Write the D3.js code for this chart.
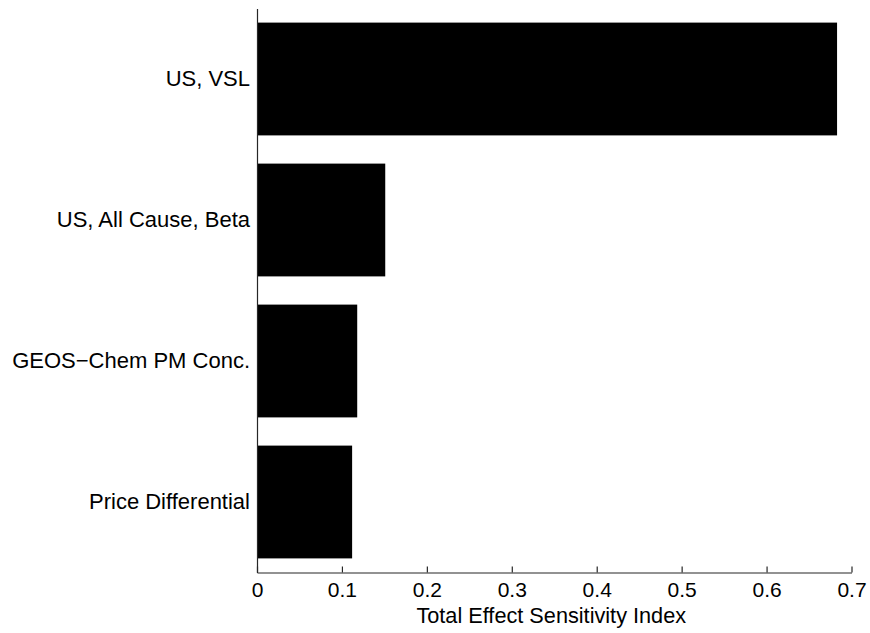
<!DOCTYPE html>
<html>
<head>
<meta charset="utf-8">
<script src="https://cdn.jsdelivr.net/npm/d3@7"></script>
<style>
  html, body { margin: 0; padding: 0; background: #fff; }
  svg { display: block; }
</style>
</head>
<body>
<svg id="chart" width="870" height="633"></svg>
<script>
const categories = ["US, VSL", "US, All Cause, Beta", "GEOS\u2212Chem PM Conc.", "Price Differential"];
const values = [0.683, 0.151, 0.118, 0.112];
const xTicks = [0, 0.1, 0.2, 0.3, 0.4, 0.5, 0.6, 0.7];
const xTickLabels = ["0", "0.1", "0.2", "0.3", "0.4", "0.5", "0.6", "0.7"];
const xLabel = "Total Effect Sensitivity Index";

const svg = d3.select("#chart");
const font = "'Liberation Sans', Arial, sans-serif";
const axisColor = "#262626";

const plotLeft = 257, plotRight = 851.5, plotTop = 8.5, plotBottom = 572.5;

const x = d3.scaleLinear().domain([0, 0.7]).range([plotLeft, plotRight]);
const y = d3.scaleBand().domain(categories).range([plotTop, plotBottom])
  .paddingInner(0.2).paddingOuter(0.1);

// bars
svg.append("g").selectAll("rect")
  .data(categories)
  .join("rect")
  .attr("x", x(0))
  .attr("y", d => y(d))
  .attr("width", (d, i) => x(values[i]) - x(0))
  .attr("height", y.bandwidth())
  .attr("fill", "#000");

// x axis
const xAxis = d3.axisBottom(x)
  .tickValues(xTicks)
  .tickFormat((d, i) => xTickLabels[i])
  .tickSizeInner(-6)
  .tickSizeOuter(0)
  .tickPadding(10);

const gx = svg.append("g")
  .attr("transform", `translate(0,${plotBottom})`)
  .call(xAxis);
gx.select(".domain").attr("stroke", axisColor).attr("stroke-width", 1.2);
gx.selectAll(".tick line").attr("stroke", axisColor).attr("stroke-width", 1.2);
gx.selectAll(".tick text")
  .attr("fill", "#000")
  .style("font-family", font)
  .style("font-size", "21px")
  .attr("dy", "0.71em");

// y axis
const yAxis = d3.axisLeft(y).tickSize(0).tickPadding(7);
const gy = svg.append("g")
  .attr("transform", `translate(${plotLeft},0)`)
  .call(yAxis);
gy.select(".domain").attr("stroke", axisColor).attr("stroke-width", 1.2);
gy.selectAll(".tick text")
  .attr("fill", "#000")
  .style("font-family", font)
  .style("font-size", "22px");

// x label
svg.append("text")
  .attr("x", (plotLeft + plotRight) / 2 - 3)
  .attr("y", 623)
  .attr("text-anchor", "middle")
  .attr("fill", "#000")
  .style("font-family", font)
  .style("font-size", "21.7px")
  .text(xLabel);
</script>
</body>
</html>
